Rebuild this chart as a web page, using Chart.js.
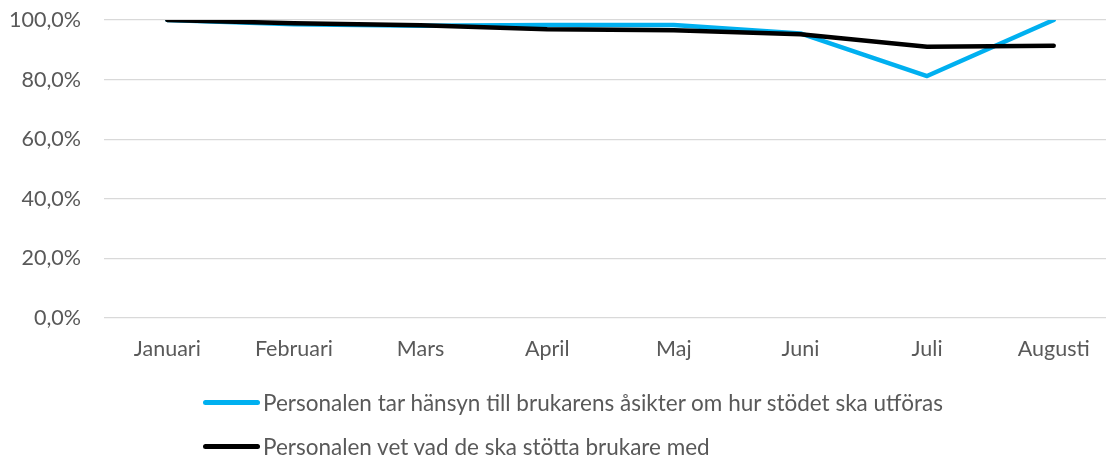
<!DOCTYPE html>
<html>
<head>
<meta charset="utf-8">
<script src="https://cdn.jsdelivr.net/npm/chart.js@4"></script>
<style>
    html, body { margin: 0; padding: 0; background: #fff; overflow: hidden; }
    #wrap { position: relative; width: 1117px; height: 457px; }
    #legend { position: absolute; left: 203px; top: 380px; font-family: Lato, sans-serif; font-size: 22.5px; color: #595959; }
    .item { display: flex; align-items: center; height: 44px; white-space: nowrap; }
    .swatch { width: 57px; height: 5px; border-radius: 3px; margin-right: 3px; }
</style>
</head>
<body>
<div id="wrap">
    <canvas id="chart" width="1117" height="457"></canvas>
    <div id="legend"></div>
</div>
<script>
const months = ['Januari', 'Februari', 'Mars', 'April', 'Maj', 'Juni', 'Juli', 'Augusti'];
const hansynValues = [100, 98.6, 98.1, 98.3, 98.3, 95.5, 81.2, 100];
const stottaValues = [100, 98.9, 98.2, 96.9, 96.6, 95.2, 91.0, 91.4];
const yTicks = [0, 20, 40, 60, 80, 100];

const TEXT_COLOR = '#595959';
const FONT = { family: 'Lato, sans-serif', size: 21.5 };

const datasets = [
    { label: 'Personalen tar hänsyn till brukarens åsikter om hur stödet ska utföras', data: hansynValues, borderColor: '#00B0F0', order: 1 },
    { label: 'Personalen vet vad de ska stötta brukare med', data: stottaValues, borderColor: '#000000', order: 0 }
].map(ds => ({
    ...ds,
    borderWidth: 4.5,
    borderCapStyle: 'round',
    borderJoinStyle: 'round',
    pointRadius: 0,
    tension: 0,
    fill: false
}));

new Chart(document.getElementById('chart'), {
    type: 'line',
    data: { labels: months, datasets },
    options: {
        responsive: false,
        animation: false,
        layout: { padding: 0 },
        plugins: { legend: { display: false }, tooltip: { enabled: false } },
        scales: {
            x: {
                offset: true,
                grid: { display: false, drawTicks: false },
                border: { display: false },
                ticks: { color: TEXT_COLOR, font: FONT, padding: 18, maxRotation: 0 },
                afterFit: s => { s.height = 139; s.paddingLeft = 0; s.paddingRight = 0; }
            },
            y: {
                min: 0,
                max: 100,
                afterBuildTicks: s => { s.ticks = yTicks.map(v => ({ value: v })); },
                grid: { color: '#d9d9d9', lineWidth: 1.3, drawTicks: false },
                border: { display: false },
                ticks: {
                    color: TEXT_COLOR, font: FONT, padding: 23,
                    callback: v => v.toFixed(1).replace('.', ',') + '%'
                },
                afterFit: s => { s.width = 104; s.paddingTop = 20; s.paddingBottom = 0; }
            }
        }
    }
});

// legend as HTML, one row per series
const legend = document.getElementById('legend');
datasets.forEach(ds => {
    const row = document.createElement('div');
    row.className = 'item';
    const sw = document.createElement('span');
    sw.className = 'swatch';
    sw.style.background = ds.borderColor;
    const txt = document.createElement('span');
    txt.textContent = ds.label;
    row.appendChild(sw);
    row.appendChild(txt);
    legend.appendChild(row);
});
</script>
</body>
</html>
